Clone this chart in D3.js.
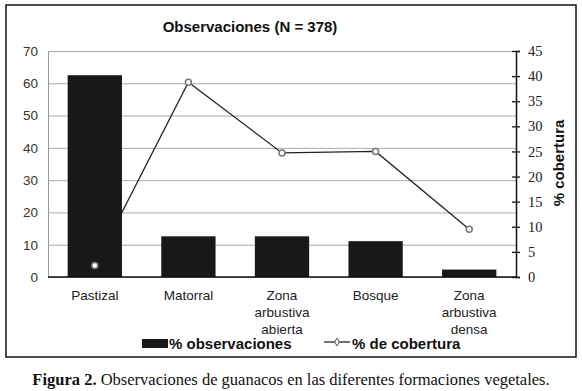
<!DOCTYPE html>
<html>
<head>
<meta charset="utf-8">
<script src="https://cdn.jsdelivr.net/npm/d3@7"></script>
<style>
  body { margin: 0; background: #fff; }
  svg { display: block; }
</style>
</head>
<body>
<svg id="chart" width="582" height="391"></svg>
<script>
// datos
var categorias = ["Pastizal", "Matorral", "Zona arbustiva abierta", "Bosque", "Zona arbustiva densa"];
var observaciones = [62.5, 12.6, 12.6, 11.1, 2.3];
var cobertura = [2.3, 38.8, 24.7, 25.0, 9.5];
var ticksIzq = [0, 10, 20, 30, 40, 50, 60, 70];
var ticksDer = [0, 5, 10, 15, 20, 25, 30, 35, 40, 45];

var svg = d3.select("#chart");
var sans = "Liberation Sans, Arial, sans-serif";
var serif = "Liberation Serif, Times New Roman, serif";

// area del grafico ("top" es reservado en window)
var izq = 48, der = 516, arriba = 51, abajo = 277;

// marco exterior
svg.append("rect")
    .attr("x", 6).attr("y", 5)
    .attr("width", 570).attr("height", 352)
    .attr("fill", "none").attr("stroke", "#111").attr("stroke-width", 1.5);

var x = d3.scaleBand()
    .domain(categorias)
    .range([izq, der])
    .paddingInner(0.42)
    .paddingOuter(0.21);

var yIzq = d3.scaleLinear().domain([0, 70]).range([abajo, arriba]);
var yDer = d3.scaleLinear().domain([0, 45]).range([abajo, arriba]);

// lineas de cuadricula
var grid = svg.append("g")
    .attr("transform", `translate(${izq},0)`)
    .call(d3.axisLeft(yIzq).tickValues(ticksIzq).tickSize(-(der - izq)).tickFormat(d => d).tickPadding(10));
grid.select(".domain").attr("stroke", "#999");
grid.selectAll(".tick line").attr("stroke", "#aaa");
grid.selectAll(".tick text")
    .attr("font-family", sans).attr("font-size", 13.5).attr("fill", "#333");

// linea de cobertura (queda detras de las barras)
var linea = d3.line()
    .x((d, i) => x(categorias[i]) + x.bandwidth() / 2)
    .y(d => yDer(d));

svg.append("path")
    .datum(cobertura)
    .attr("d", linea)
    .attr("fill", "none")
    .attr("stroke", "#222")
    .attr("stroke-width", 1.3);

// barras
svg.append("g")
    .selectAll("rect")
    .data(observaciones)
    .enter()
    .append("rect")
    .attr("x", (d, i) => x(categorias[i]))
    .attr("y", d => yIzq(d))
    .attr("width", x.bandwidth())
    .attr("height", d => abajo - yIzq(d))
    .attr("fill", "#1a1718");

// marcadores
svg.append("g")
    .selectAll("circle")
    .data(cobertura)
    .enter()
    .append("circle")
    .attr("cx", (d, i) => x(categorias[i]) + x.bandwidth() / 2)
    .attr("cy", d => yDer(d))
    .attr("r", 3)
    .attr("fill", "#fff")
    .attr("stroke", "#777")
    .attr("stroke-width", 1.5);

// eje x
svg.append("line")
    .attr("x1", izq).attr("x2", der)
    .attr("y1", abajo).attr("y2", abajo)
    .attr("stroke", "#111").attr("stroke-width", 1.5);

var etiquetas = svg.append("g")
    .selectAll("text")
    .data(categorias)
    .enter()
    .append("text")
    .attr("x", d => x(d) + x.bandwidth() / 2)
    .attr("y", 300)
    .attr("text-anchor", "middle")
    .attr("font-family", sans)
    .attr("font-size", 13.5)
    .attr("fill", "#222");

etiquetas.each(function (d) {
    var t = d3.select(this);
    var cx = t.attr("x");
    d.split(" ").forEach(function (palabra, i) {
        t.append("tspan").attr("x", cx).attr("dy", i == 0 ? 0 : 17).text(palabra);
    });
});

// eje derecho
var ejeDer = svg.append("g")
    .attr("transform", `translate(${der},0)`)
    .call(d3.axisRight(yDer).tickValues(ticksDer).tickSize(4).tickPadding(8));
ejeDer.select(".domain").attr("stroke", "#111").attr("stroke-width", 1.5);
ejeDer.selectAll(".tick line").attr("x1", -4).attr("stroke", "#111").attr("stroke-width", 1.3);
ejeDer.selectAll(".tick text")
    .attr("font-family", serif).attr("font-size", 14.5).attr("fill", "#222");

svg.append("text")
    .attr("transform", "translate(564,163) rotate(-90)")
    .attr("text-anchor", "middle")
    .attr("font-family", sans)
    .attr("font-weight", "bold")
    .attr("font-size", 15)
    .attr("fill", "#111")
    .text("% cobertura");

// titulo
svg.append("text")
    .attr("x", 250).attr("y", 32)
    .attr("text-anchor", "middle")
    .attr("font-family", sans)
    .attr("font-weight", "bold")
    .attr("font-size", 15)
    .attr("fill", "#111")
    .text("Observaciones (N = 378)");

// leyenda
var leyenda = svg.append("g");
leyenda.append("rect")
    .attr("x", 142).attr("y", 339)
    .attr("width", 26).attr("height", 9)
    .attr("fill", "#1a1718");
leyenda.append("text")
    .attr("x", 169).attr("y", 349)
    .attr("font-family", sans).attr("font-weight", "bold").attr("font-size", 15)
    .attr("fill", "#111")
    .text("% observaciones");
leyenda.append("line")
    .attr("x1", 324).attr("x2", 350)
    .attr("y1", 342).attr("y2", 342)
    .attr("stroke", "#222").attr("stroke-width", 1.3);
leyenda.append("path")
    .attr("d", d3.symbol().type(d3.symbolDiamond).size(18))
    .attr("transform", "translate(337,342)")
    .attr("fill", "#fff").attr("stroke", "#555").attr("stroke-width", 1);
leyenda.append("text")
    .attr("x", 352).attr("y", 349)
    .attr("font-family", sans).attr("font-weight", "bold").attr("font-size", 15)
    .attr("fill", "#111")
    .text("% de cobertura");

// pie de figura
var pie = svg.append("text")
    .attr("x", 291).attr("y", 385)
    .attr("text-anchor", "middle")
    .attr("font-family", serif)
    .attr("font-size", 16.5)
    .attr("fill", "#111");
pie.append("tspan").attr("font-weight", "bold").text("Figura 2.");
pie.append("tspan").text(" Observaciones de guanacos en las diferentes formaciones vegetales.");
</script>
</body>
</html>
